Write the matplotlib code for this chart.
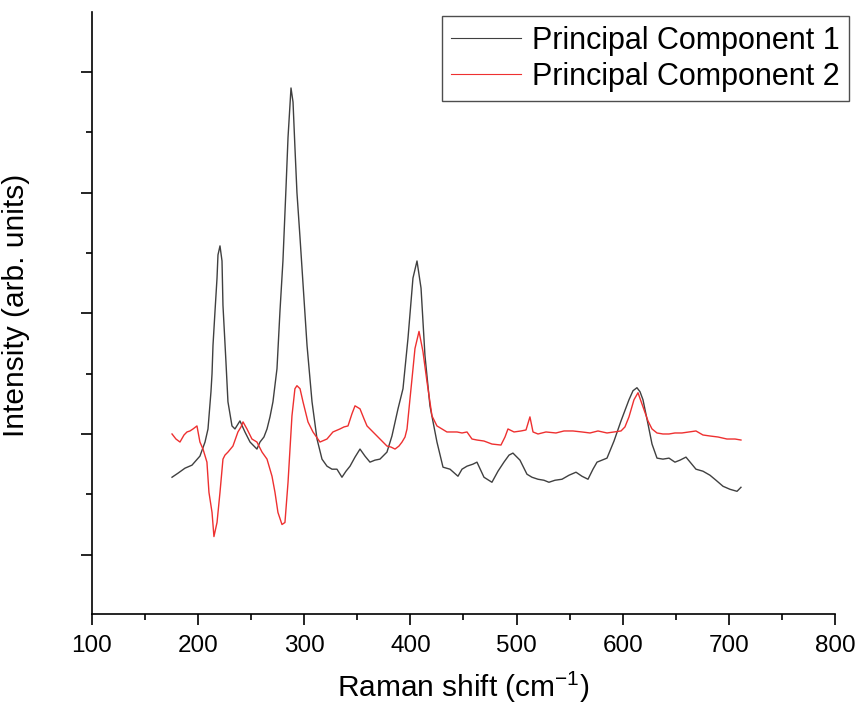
# PCA loadings of the Raman spectra
import matplotlib
matplotlib.use("Agg")
import matplotlib.pyplot as plt
from matplotlib.ticker import MultipleLocator, NullFormatter

plt.rcParams['font.family'] = ['Liberation Sans', 'DejaVu Sans']
plt.rcParams['mathtext.fontset'] = 'custom'
plt.rcParams['mathtext.rm'] = 'Liberation Sans'

# values (x in cm^-1, y in arbitrary units)
pc1_x = [175.4, 181, 187.6, 194.2, 201.7, 206.5, 209.3, 212.1, 213.1, 214, 215.9, 217.8, 218.7,
         220.6, 222.5, 223.4, 226.2, 228.1, 231.9, 234.7, 239.4, 244.1, 248.9, 252.6, 255.4, 258.3,
         262, 264.9, 267.7, 270.5, 274.3, 277.1, 279.9, 282.8, 284.7, 287.5, 289.4, 291.2, 293.1,
         296, 299.7, 302.6, 307.3, 312, 316.7, 321.4, 326.1, 330.8, 335.5, 339.3, 343.1, 347.8,
         352.5, 357.2, 361.9, 366.6, 371.3, 377.9, 382.6, 388.3, 393, 397.7, 402.4, 406.2, 410,
         413.7, 418.4, 425, 430.7, 437.3, 444.8, 448.6, 453.3, 458.9, 462.7, 469.3, 476.8, 482.5,
         488.1, 492.9, 496.6, 503.2, 509.8, 514.5, 520.2, 525.8, 530.5, 536.2, 542.8, 549.4, 556,
         561.6, 567.3, 572, 575.8, 580.5, 585.2, 591.8, 598.4, 605.9, 609.7, 613.4, 616.3, 619.1,
         623.8, 627.6, 632.3, 637.9, 643.6, 649.2, 654, 659.6, 664.3, 669, 675.6, 682.2, 687.9,
         694.5, 701.1, 707.7, 711.4]
pc1_y = [77, 81, 86, 89, 98, 112, 125, 162, 180, 208, 242, 275, 298,
         307, 292, 248, 192, 152, 128, 125, 133, 122, 112, 108, 105, 112,
         117, 125, 137, 152, 185, 242, 292, 365, 415, 464, 450, 405, 360,
         315, 255, 208, 152, 115, 95, 88, 85, 85, 77, 83, 88, 97,
         105, 98, 92, 94, 95, 102, 118, 145, 165, 215, 275, 292, 265,
         198, 148, 112, 87, 85, 78, 85, 88, 90, 92, 77, 72, 83,
         92, 99, 101, 94, 80, 77, 75, 74, 72, 74, 75, 79, 82,
         78, 75, 85, 92, 94, 96, 113, 133, 154, 163, 166, 162, 154,
         130, 110, 96, 95, 96, 92, 94, 97, 91, 85, 83, 79, 74,
         68, 65, 63, 67]

pc2_x = [175.4, 179.1, 182.9, 186.7, 189.5, 192.3, 195.2, 198.9, 201.7, 204.6, 208.3, 210.2,
         213.1, 214.9, 217.8, 220.6, 223.4, 225.3, 228.1, 232.8, 237.5, 240.4, 242.3, 246, 250.7,
         255.4, 260.2, 264.9, 269.6, 272.4, 275.2, 279, 281.8, 284.7, 288.4, 291.2, 293.1, 296,
         298.8, 303.5, 308.2, 314.8, 321.4, 327, 333.6, 337.4, 341.2, 344.9, 347.8, 352.5, 356.3,
         359.1, 363.8, 368.5, 373.2, 377.9, 381.7, 385.5, 389.2, 392.1, 394.9, 396.8, 399.6, 401.5,
         404.3, 408.1, 411.8, 415.6, 420.3, 425, 429.7, 434.4, 439.2, 443.9, 448.6, 453.3, 458,
         462.7, 469.3, 476.8, 485.3, 489.1, 491.9, 497.6, 504.2, 508.9, 512.6, 515.5, 520.2, 527.7,
         537.1, 544.7, 553.1, 561.6, 569.2, 576.7, 585.2, 591.8, 598.4, 602.1, 605.9, 610.6, 614.4,
         619.1, 623.8, 627.6, 632.3, 637.9, 643.6, 649.2, 655.8, 662.4, 669, 675.6, 682.2, 689.8,
         698.2, 705.8, 711.4]
pc2_y = [120, 115, 112, 119, 122, 123, 125, 128, 112, 105, 92, 62,
         42, 18, 32, 62, 95, 99, 102, 108, 122, 127, 132, 125, 115,
         112, 102, 95, 78, 62, 42, 30, 32, 72, 138, 165, 168, 165,
         152, 132, 122, 112, 115, 122, 125, 127, 128, 140, 148, 145, 135,
         128, 123, 118, 113, 108, 107, 105, 108, 112, 117, 125, 155, 175,
         205, 222, 202, 172, 138, 128, 125, 122, 122, 122, 121, 122, 115,
         114, 113, 110, 109, 117, 125, 122, 123, 124, 137, 122, 120, 122,
         121, 123, 123, 122, 121, 123, 121, 122, 123, 127, 137, 154, 161,
         147, 133, 125, 121, 120, 120, 121, 121, 122, 123, 119, 118, 117,
         115, 115, 114]

labels = ['Principal Component 1', 'Principal Component 2']

fig = plt.figure(figsize=(8.58, 7.12), dpi=100)
ax = fig.add_axes([0.1072, 0.1376, 0.866, 0.8455])

ax.plot(pc1_x, pc1_y, color='#404040', lw=1.0, label=labels[0])
ax.plot(pc2_x, pc2_y, color='#ee3030', lw=1.0, label=labels[1])

ax.set_xlim(100, 800)
ax.set_ylim(-59, 539.5)
ax.xaxis.set_major_locator(MultipleLocator(100))
ax.xaxis.set_minor_locator(MultipleLocator(50))
ax.yaxis.set_major_locator(MultipleLocator(120))
ax.yaxis.set_minor_locator(MultipleLocator(60))
ax.yaxis.set_major_formatter(NullFormatter())

for s in ['top', 'right']:
    ax.spines[s].set_visible(False)
for s in ['left', 'bottom']:
    ax.spines[s].set_linewidth(1.2)
ax.tick_params(axis='x', which='major', direction='out', length=8, width=1.2, labelsize=17.5, pad=7)
ax.tick_params(axis='x', which='minor', direction='out', length=4, width=1.2)
ax.tick_params(axis='y', which='major', direction='out', length=8, width=1.2)
ax.tick_params(axis='y', which='minor', direction='out', length=4.5, width=1.2)

ax.set_xlabel('Raman shift (cm$^{-1}$)', fontsize=21.5, labelpad=9)
ax.set_ylabel('Intensity (arb. units)', fontsize=21.5)
ax.yaxis.set_label_coords(-0.083, 0.513)

leg = ax.legend(loc='upper right', bbox_to_anchor=(0.989, 0.977), bbox_transform=fig.transFigure,
                fontsize=22, frameon=True, fancybox=False, handlelength=2.3,
                borderpad=0.3, labelspacing=0.2, handletextpad=0.35, borderaxespad=0)
leg.get_frame().set_edgecolor('#222222')
leg.get_frame().set_linewidth(1.0)
for h in leg.get_lines():
    h.set_linewidth(0.8)

fig.savefig('out.png', dpi=100)
